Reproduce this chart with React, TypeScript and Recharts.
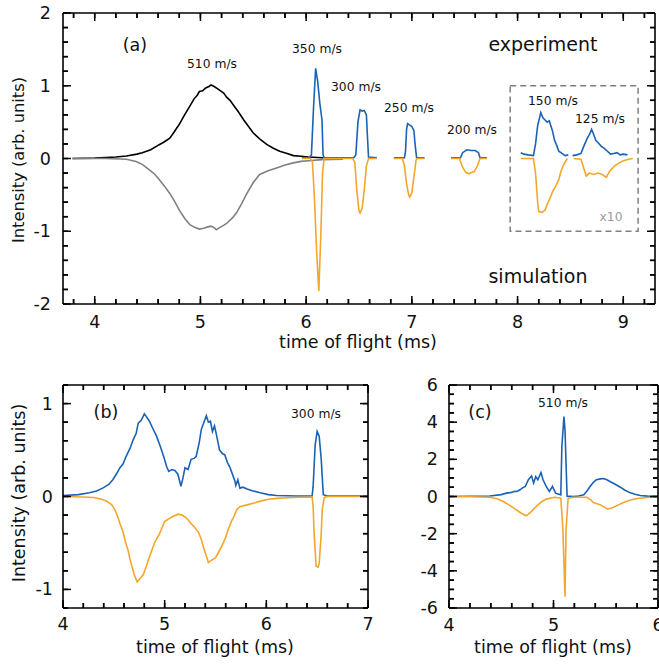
import React from "react";
import { LineChart, Line, XAxis, YAxis, ReferenceArea } from "recharts";

type P = [number, number];

// ---------- Panel (a) ----------
const expA: P[] = [[3.79,0],[4.0,0.005],[4.2,0.02],[4.3,0.035],[4.4,0.06],[4.45,0.08],[4.53,0.12],[4.61,0.19],[4.66,0.23],[4.71,0.28],[4.75,0.36],[4.8,0.47],[4.85,0.6],[4.9,0.72],[4.94,0.82],[4.97,0.87],[4.99,0.92],[5.02,0.93],[5.05,0.97],[5.08,0.99],[5.1,1.01],[5.13,0.99],[5.16,0.96],[5.19,0.93],[5.22,0.9],[5.25,0.84],[5.28,0.8],[5.31,0.74],[5.36,0.64],[5.41,0.53],[5.45,0.45],[5.5,0.35],[5.56,0.27],[5.63,0.19],[5.69,0.14],[5.75,0.1],[5.82,0.07],[5.88,0.04],[5.95,0.03],[6.02,0.02],[6.15,0.01],[6.35,0.01]];
const simA: P[] = [[3.79,0],[4.1,0],[4.3,-0.01],[4.39,-0.04],[4.45,-0.08],[4.52,-0.16],[4.57,-0.22],[4.61,-0.29],[4.66,-0.38],[4.71,-0.48],[4.76,-0.6],[4.8,-0.71],[4.85,-0.82],[4.9,-0.91],[4.95,-0.95],[4.99,-0.97],[5.03,-0.96],[5.07,-0.94],[5.1,-0.93],[5.13,-0.95],[5.15,-0.98],[5.18,-0.95],[5.22,-0.92],[5.25,-0.89],[5.3,-0.82],[5.34,-0.75],[5.39,-0.62],[5.44,-0.48],[5.5,-0.33],[5.56,-0.22],[5.64,-0.17],[5.72,-0.13],[5.8,-0.09],[5.88,-0.06],[5.95,-0.04],[6.02,-0.03],[6.15,-0.015],[6.35,-0.01]];
const blueA1: P[] = [[5.96,0.01],[6.03,0.01],[6.05,0.05],[6.07,0.7],[6.09,1.24],[6.11,1.05],[6.13,0.75],[6.15,0.53],[6.16,0.05],[6.17,0.01],[6.3,0.01],[6.45,0.01],[6.47,0.05],[6.49,0.5],[6.51,0.67],[6.53,0.65],[6.55,0.66],[6.57,0.6],[6.58,0.3],[6.59,0.02],[6.67,0.01]];
const orangeA1: P[] = [[5.96,0],[6.04,0],[6.06,-0.05],[6.08,-0.6],[6.1,-1.3],[6.12,-1.82],[6.14,-1.0],[6.155,-0.2],[6.17,0],[6.44,0],[6.46,-0.05],[6.48,-0.45],[6.5,-0.72],[6.51,-0.75],[6.53,-0.68],[6.55,-0.43],[6.57,-0.1],[6.59,0],[6.67,0]];
const blueA2: P[] = [[6.83,0.01],[6.93,0.01],[6.94,0.1],[6.95,0.4],[6.96,0.48],[6.98,0.46],[7.0,0.44],[7.02,0.38],[7.03,0.2],[7.045,0.01],[7.12,0.01]];
const orangeA2: P[] = [[6.83,0],[6.91,0],[6.93,-0.1],[6.95,-0.35],[6.97,-0.5],[6.98,-0.53],[7.0,-0.47],[7.02,-0.25],[7.04,-0.02],[7.05,0],[7.12,0]];
const blueA3: P[] = [[7.37,0.01],[7.46,0.01],[7.48,0.08],[7.52,0.12],[7.56,0.11],[7.6,0.11],[7.63,0.08],[7.645,0.01],[7.71,0.01]];
const orangeA3: P[] = [[7.37,0],[7.45,0],[7.48,-0.12],[7.51,-0.19],[7.54,-0.21],[7.57,-0.19],[7.59,-0.18],[7.62,-0.1],[7.645,0],[7.71,0]];
const blueA4: P[] = [[8.03,0.08],[8.06,0.06],[8.1,0.05],[8.15,0.04],[8.17,0.2],[8.19,0.45],[8.22,0.63],[8.24,0.56],[8.26,0.53],[8.28,0.5],[8.3,0.52],[8.31,0.47],[8.33,0.38],[8.35,0.25],[8.37,0.18],[8.39,0.1],[8.42,0.07],[8.45,0.04],[8.48,0.05]];
const orangeA4: P[] = [[8.03,0],[8.15,0],[8.17,-0.2],[8.19,-0.6],[8.2,-0.73],[8.23,-0.74],[8.26,-0.71],[8.28,-0.63],[8.3,-0.57],[8.33,-0.46],[8.36,-0.38],[8.39,-0.29],[8.41,-0.18],[8.43,-0.1],[8.47,0]];
const blueA5: P[] = [[8.52,0.04],[8.56,0.05],[8.6,0.07],[8.63,0.18],[8.66,0.28],[8.68,0.33],[8.7,0.4],[8.72,0.33],[8.74,0.25],[8.76,0.22],[8.79,0.17],[8.82,0.14],[8.85,0.1],[8.88,0.06],[8.91,0.07],[8.94,0.08],[8.97,0.05],[9.0,0.06],[9.04,0.05]];
const orangeA5: P[] = [[8.53,0],[8.6,-0.01],[8.63,-0.15],[8.65,-0.24],[8.68,-0.2],[8.72,-0.22],[8.76,-0.2],[8.8,-0.22],[8.84,-0.26],[8.86,-0.2],[8.88,-0.16],[8.92,-0.1],[8.96,-0.06],[9.0,-0.03],[9.05,-0.01],[9.09,0]];
const zoomBoxA = { x1: 7.93, x2: 9.14, y1: -1, y2: 1 };

// ---------- Panel (b) ----------
const blueB: P[] = [[4.0,0.01],[4.15,0.02],[4.26,0.04],[4.33,0.06],[4.39,0.09],[4.45,0.13],[4.49,0.18],[4.53,0.25],[4.56,0.31],[4.59,0.35],[4.62,0.43],[4.66,0.52],[4.69,0.61],[4.72,0.68],[4.74,0.79],[4.77,0.82],[4.8,0.89],[4.82,0.86],[4.85,0.81],[4.88,0.74],[4.92,0.65],[4.96,0.53],[4.99,0.43],[5.02,0.32],[5.04,0.27],[5.07,0.29],[5.1,0.28],[5.13,0.24],[5.16,0.11],[5.18,0.2],[5.2,0.31],[5.23,0.29],[5.26,0.4],[5.29,0.41],[5.31,0.43],[5.34,0.58],[5.36,0.72],[5.38,0.78],[5.41,0.87],[5.43,0.8],[5.45,0.81],[5.47,0.7],[5.49,0.76],[5.51,0.66],[5.54,0.5],[5.57,0.46],[5.59,0.45],[5.62,0.36],[5.64,0.32],[5.67,0.23],[5.69,0.17],[5.7,0.12],[5.72,0.18],[5.74,0.09],[5.77,0.1],[5.81,0.08],[5.87,0.06],[5.94,0.04],[6.02,0.02],[6.1,0.01],[6.3,0.005],[6.45,0.005],[6.46,0.1],[6.48,0.55],[6.5,0.7],[6.52,0.65],[6.54,0.4],[6.56,0.02],[6.6,0.005],[7.0,0.005]];
const orangeB: P[] = [[4.0,0],[4.2,-0.005],[4.3,-0.01],[4.38,-0.03],[4.43,-0.05],[4.48,-0.09],[4.51,-0.14],[4.54,-0.22],[4.56,-0.29],[4.59,-0.38],[4.61,-0.47],[4.64,-0.58],[4.66,-0.68],[4.7,-0.84],[4.73,-0.92],[4.76,-0.88],[4.79,-0.84],[4.82,-0.75],[4.85,-0.65],[4.88,-0.56],[4.9,-0.5],[4.95,-0.4],[4.98,-0.32],[5.0,-0.27],[5.04,-0.24],[5.07,-0.22],[5.13,-0.19],[5.17,-0.2],[5.2,-0.22],[5.23,-0.25],[5.26,-0.29],[5.3,-0.34],[5.33,-0.38],[5.36,-0.46],[5.38,-0.54],[5.41,-0.64],[5.43,-0.71],[5.47,-0.68],[5.5,-0.66],[5.53,-0.6],[5.56,-0.54],[5.6,-0.44],[5.63,-0.34],[5.66,-0.26],[5.68,-0.22],[5.71,-0.14],[5.74,-0.11],[5.81,-0.09],[5.88,-0.07],[5.94,-0.05],[6.02,-0.03],[6.1,-0.02],[6.26,-0.01],[6.45,-0.005],[6.46,-0.1],[6.47,-0.4],[6.49,-0.75],[6.51,-0.76],[6.52,-0.72],[6.54,-0.4],[6.55,-0.14],[6.57,-0.01],[6.6,0],[7.0,0]];

// ---------- Panel (c) ----------
const blueC: P[] = [[4.0,0],[4.2,0.01],[4.39,0.03],[4.5,0.1],[4.55,0.18],[4.6,0.22],[4.63,0.28],[4.65,0.27],[4.68,0.36],[4.7,0.45],[4.73,0.54],[4.76,0.9],[4.79,1.11],[4.81,0.72],[4.83,1.07],[4.85,0.9],[4.88,1.29],[4.9,0.9],[4.93,0.54],[4.96,0.27],[4.99,0.54],[5.02,0.18],[5.07,0.09],[5.08,2.69],[5.1,4.3],[5.11,3.59],[5.13,0.02],[5.19,0],[5.24,0.03],[5.29,0.09],[5.32,0.3],[5.35,0.54],[5.38,0.75],[5.41,0.9],[5.45,0.95],[5.48,0.97],[5.51,0.9],[5.54,0.81],[5.59,0.66],[5.64,0.5],[5.68,0.35],[5.73,0.21],[5.78,0.12],[5.83,0.05],[5.9,0.02],[6.0,0]];
const orangeC: P[] = [[4.0,0],[4.2,-0.01],[4.39,-0.04],[4.46,-0.12],[4.52,-0.27],[4.57,-0.44],[4.62,-0.63],[4.66,-0.78],[4.7,-0.93],[4.74,-1.04],[4.76,-0.95],[4.79,-0.8],[4.82,-0.62],[4.85,-0.45],[4.89,-0.27],[4.93,-0.14],[5.01,-0.04],[5.07,-0.09],[5.09,-1.79],[5.11,-5.4],[5.12,-1.79],[5.14,-0.09],[5.19,-0.04],[5.32,-0.04],[5.36,-0.2],[5.38,-0.32],[5.45,-0.45],[5.52,-0.68],[5.57,-0.59],[5.62,-0.45],[5.67,-0.32],[5.73,-0.2],[5.8,-0.11],[5.9,-0.05],[6.0,-0.02]];

// ---------- Ticks ----------
const aXMajor = [4, 5, 6, 7, 8, 9];
const aYMajor = [-2, -1, 0, 1, 2];
const bXMajor = [4, 5, 6, 7];
const bYMajor = [-1, 0, 1];
const cXMajor = [4, 5, 6];
const cYMajor = [-6, -4, -2, 0, 2, 4, 6];

const steps = (a: number, b: number, s: number) => {
  const out: number[] = [];
  const n = Math.round((b - a) / s);
  for (let i = 0; i <= n; i++) out.push(Math.round((a + i * s) * 1000) / 1000);
  return out;
};
const aXTicks = steps(3.8, 9.2, 0.2);
const aYTicks = steps(-2, 2, 0.2);
const bXTicks = steps(4, 7, 0.2);
const bYTicks = steps(-1.2, 1.2, 0.2);
const cXTicks = steps(4, 6, 0.2);
const cYTicks = steps(-6, 6, 0.5);

const BLUE = "#1b62b5";
const ORANGE = "#f4a62b";
const FONT = "'DejaVu Sans', Verdana, sans-serif";
const MINOR = 5;
const MAJOR = 8;

const toPts = (arr: P[]) => arr.map(([x, y]) => ({ x, y }));
const isMaj = (majors: number[], v: number) => majors.some((m) => Math.abs(m - v) < 1e-6);

function makeTick(side: string, majors: number[], showLabel: boolean, gap: number) {
  return (props: any) => {
    const x = Number(props.x);
    const y = Number(props.y);
    const v = props.payload.value;
    const isMajor = isMaj(majors, v);
    let ax = x, ay = y;
    if (side === "bottom") ay = y + MINOR;
    if (side === "top") ay = y - MINOR;
    if (side === "left") ax = x - MINOR;
    if (side === "right") ax = x + MINOR;
    return (
      <g>
        {showLabel && isMajor && side === "bottom" && (
          <text x={ax} y={ay + gap} textAnchor="middle" dominantBaseline="central" fontSize={17.5} fontFamily={FONT} fill="#111">{v}</text>
        )}
        {showLabel && isMajor && side === "left" && (
          <text x={ax - gap} y={ay} textAnchor="end" dominantBaseline="central" fontSize={17.5} fontFamily={FONT} fill="#111">{v}</text>
        )}
      </g>
    );
  };
}

type Series = { data: P[]; color: string };
type PanelCfg = {
  left: number; top: number; width: number; height: number;
  margin: { top: number; right: number; bottom: number; left: number };
  xDomain: [number, number]; yDomain: [number, number];
  xTicks: number[]; yTicks: number[]; xMajor: number[]; yMajor: number[];
  xGap: number; yGap: number;
};

// inward tick marks, placed on the plot frame that the chart's margins define
function FrameTicks({ p }: { p: PanelCfg }) {
  const L = p.left + p.margin.left + 1;
  const R = p.left + p.width - p.margin.right - 1;
  const T = p.top + p.margin.top + 1;
  const B = p.top + p.height - p.margin.bottom - 1;
  const sx = (v: number) => L + ((v - p.xDomain[0]) / (p.xDomain[1] - p.xDomain[0])) * (R - L);
  const sy = (v: number) => B - ((v - p.yDomain[0]) / (p.yDomain[1] - p.yDomain[0])) * (B - T);
  const st = { stroke: "#000", strokeWidth: 1.5 };
  return (
    <g>
      {p.xTicks.map((v, i) => {
        const len = isMaj(p.xMajor, v) ? MAJOR : MINOR;
        const x = sx(v);
        return (
          <g key={"x" + i}>
            <line x1={x} y1={B} x2={x} y2={B - len} {...st} />
            <line x1={x} y1={T} x2={x} y2={T + len} {...st} />
          </g>
        );
      })}
      {p.yTicks.map((v, i) => {
        const len = isMaj(p.yMajor, v) ? MAJOR : MINOR;
        const y = sy(v);
        return (
          <g key={"y" + i}>
            <line x1={L} y1={y} x2={L + len} y2={y} {...st} />
            <line x1={R} y1={y} x2={R - len} y2={y} {...st} />
          </g>
        );
      })}
    </g>
  );
}

function Panel(props: PanelCfg & { series: Series[]; box?: { x1: number; x2: number; y1: number; y2: number } }) {
  const p = props;
  const axisLine = { stroke: "#000", strokeWidth: 1.6 };
  const tickLine = { stroke: "#000", strokeWidth: 1.5 };
  const common = { allowDataOverflow: true, interval: 0 as const, tickSize: -MINOR, tickMargin: 0, tickLine, axisLine, type: "number" as const };
  return (
    <div style={{ position: "absolute", left: p.left, top: p.top }}>
      <LineChart width={p.width} height={p.height} margin={p.margin}>
        <XAxis {...common} xAxisId="b" dataKey="x" domain={p.xDomain} ticks={p.xTicks} orientation="bottom" height={1}
          tick={makeTick("bottom", p.xMajor, true, p.xGap)} />
        <XAxis {...common} xAxisId="t" dataKey="x" domain={p.xDomain} ticks={p.xTicks} orientation="top" height={1}
          tick={makeTick("top", p.xMajor, false, 0)} />
        <YAxis {...common} yAxisId="l" domain={p.yDomain} ticks={p.yTicks} orientation="left" width={1}
          tick={makeTick("left", p.yMajor, true, p.yGap)} />
        <YAxis {...common} yAxisId="r" domain={p.yDomain} ticks={p.yTicks} orientation="right" width={1}
          tick={makeTick("right", p.yMajor, false, 0)} />
        {p.box && (
          <ReferenceArea xAxisId="b" yAxisId="l" x1={p.box.x1} x2={p.box.x2} y1={p.box.y1} y2={p.box.y2}
            fill="none" fillOpacity={0} stroke="#7f7f7f" strokeWidth={1.5} strokeDasharray="6 4" ifOverflow="visible" />
        )}
        {p.series.map((s, i) => (
          <Line key={i} xAxisId="b" yAxisId="l" data={toPts(s.data)} dataKey="y" type="linear" stroke={s.color}
            strokeWidth={1.6} dot={false} activeDot={false} isAnimationActive={false} />
        ))}
      </LineChart>
    </div>
  );
}

const cfgA: PanelCfg = {
  left: 0, top: 0, width: 659, height: 345, margin: { top: 12, right: 3, bottom: 40, left: 62 },
  xDomain: [3.7, 9.3], yDomain: [-2, 2], xTicks: aXTicks, yTicks: aYTicks, xMajor: aXMajor, yMajor: aYMajor, xGap: 18, yGap: 12,
};
const cfgB: PanelCfg = {
  left: 0, top: 360, width: 380, height: 280, margin: { top: 24, right: 11, bottom: 31, left: 62 },
  xDomain: [4, 7], yDomain: [-1.2, 1.2], xTicks: bXTicks, yTicks: bYTicks, xMajor: bXMajor, yMajor: bYMajor, xGap: 16, yGap: 10,
};
const cfgC: PanelCfg = {
  left: 400, top: 360, width: 259, height: 280, margin: { top: 24, right: 0, bottom: 31, left: 48 },
  xDomain: [4, 6], yDomain: [-6, 6], xTicks: cXTicks, yTicks: cYTicks, xMajor: cXMajor, yMajor: cYMajor, xGap: 17, yGap: 11,
};

export default function App() {
  const base = { fontFamily: FONT, fill: "#111", textAnchor: "middle" as const, dominantBaseline: "central" as const };
  const small = { ...base, fontSize: 12.3 };
  return (
    <div style={{ position: "absolute", left: 0, top: 0, width: 659, height: 666, background: "#fff", overflow: "hidden" }}>
      <Panel {...cfgA} box={zoomBoxA}
        series={[
          { data: expA, color: "#000" }, { data: simA, color: "#808080" },
          { data: blueA1, color: BLUE }, { data: orangeA1, color: ORANGE },
          { data: blueA2, color: BLUE }, { data: orangeA2, color: ORANGE },
          { data: blueA3, color: BLUE }, { data: orangeA3, color: ORANGE },
          { data: blueA4, color: BLUE }, { data: orangeA4, color: ORANGE },
          { data: blueA5, color: BLUE }, { data: orangeA5, color: ORANGE },
        ]} />
      <Panel {...cfgB} series={[{ data: blueB, color: BLUE }, { data: orangeB, color: ORANGE }]} />
      <Panel {...cfgC} series={[{ data: blueC, color: BLUE }, { data: orangeC, color: ORANGE }]} />
      <svg width={659} height={666} style={{ position: "absolute", left: 0, top: 0, pointerEvents: "none" }}>
        <FrameTicks p={cfgA} />
        <FrameTicks p={cfgB} />
        <FrameTicks p={cfgC} />
        <text {...base} fontSize={16.3} x={18} y={160} transform="rotate(-90 18 160)">Intensity (arb. units)</text>
        <text {...base} fontSize={17.5} x={358} y={342}>time of flight (ms)</text>
        <text {...base} fontSize={17.5} x={19} y={493} transform="rotate(-90 19 493)">Intensity (arb. units)</text>
        <text {...base} fontSize={17.5} x={215} y={647}>time of flight (ms)</text>
        <text {...base} fontSize={17.5} x={553} y={647}>time of flight (ms)</text>
        <text {...base} fontSize={19} x={543} y={44}>experiment</text>
        <text {...base} fontSize={19} x={538} y={276}>simulation</text>
        <text {...base} fontSize={17.5} x={135} y={45}>(a)</text>
        <text {...base} fontSize={17.5} x={106} y={412}>(b)</text>
        <text {...base} fontSize={17.5} x={480} y={412}>(c)</text>
        <text {...small} x={212} y={64}>510 m/s</text>
        <text {...small} x={317} y={49}>350 m/s</text>
        <text {...small} x={356} y={87}>300 m/s</text>
        <text {...small} x={409} y={108}>250 m/s</text>
        <text {...small} x={472} y={130}>200 m/s</text>
        <text {...small} x={553} y={101}>150 m/s</text>
        <text {...small} x={600} y={119}>125 m/s</text>
        <text {...small} x={611} y={217} fill="#999">x10</text>
        <text {...small} x={316} y={414}>300 m/s</text>
        <text {...small} x={563} y={403}>510 m/s</text>
      </svg>
    </div>
  );
}
